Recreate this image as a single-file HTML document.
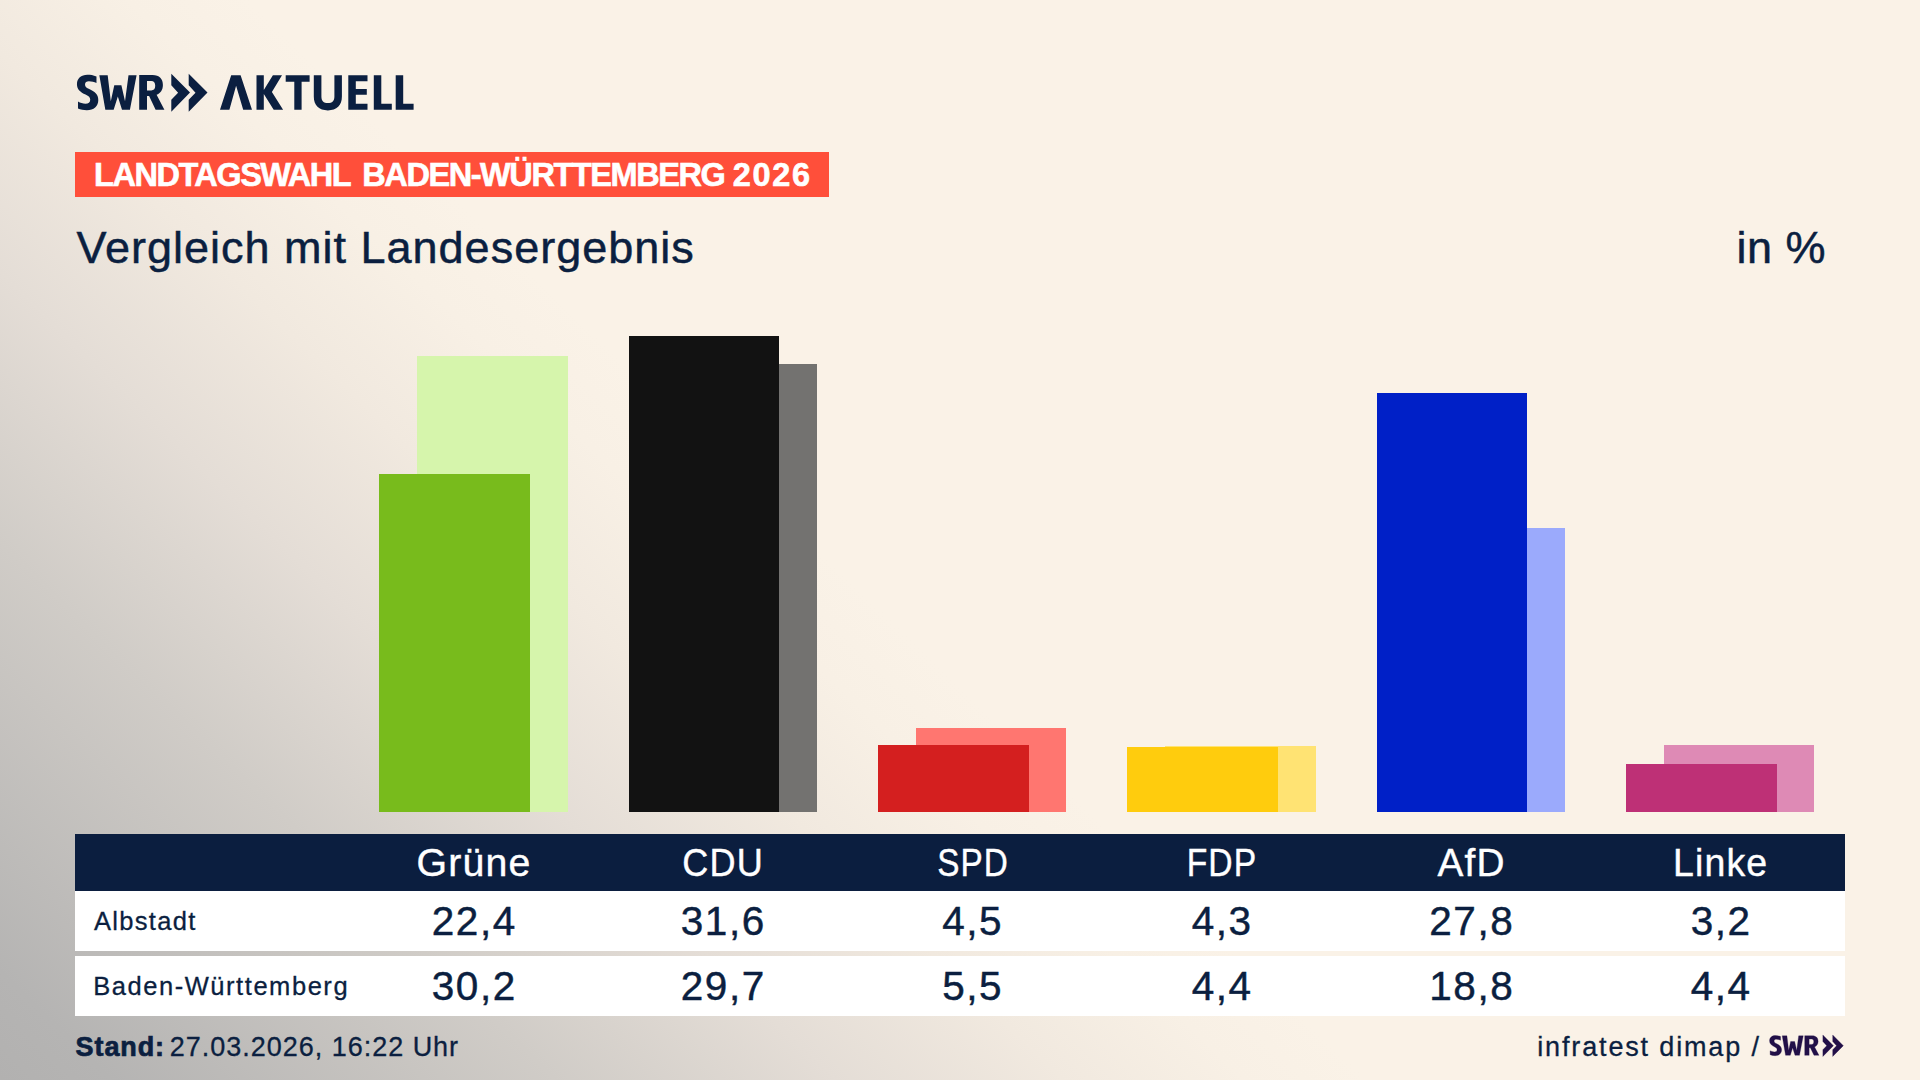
<!DOCTYPE html>
<html lang="de">
<head>
<meta charset="utf-8">
<title>SWR Aktuell – Landtagswahl Baden-Württemberg 2026 – Vergleich mit Landesergebnis</title>
<style>
  html, body { margin: 0; padding: 0; }
  body {
    width: 1920px; height: 1080px; overflow: hidden; position: relative;
    font-family: "Liberation Sans", sans-serif;
    color: #0b1f40;
    background-color: #faf2e7;
    background-image: linear-gradient(44deg, #b2b1b0 0%, #b5b4b3 3.7%, #d0ccc7 18.3%, #e4ddd6 27.5%, #f1e9df 35%, #f8f0e5 41%, #faf2e7 45%);
  }
  .abs { position: absolute; white-space: pre; line-height: 1; }

  /* header */
  #logo { position: absolute; left: 60px; top: 60px; width: 380px; height: 70px; }
  #badge {
    position: absolute; left: 75px; top: 152px; width: 754px; height: 45px;
    background: #ff4f3a;
  }
  #badge span {
    position: absolute; top: 6.6px; line-height: 32px;
    font-weight: bold; font-size: 32.5px; color: #fff; white-space: pre;
    -webkit-text-stroke: 0.6px #fff;
  }
  #bw1 { left: 19px;    letter-spacing: -1.47px; }
  #bw2 { left: 287.3px; letter-spacing: -1.43px; }
  #bw3 { left: 657.8px;   letter-spacing: 1.65px; }
  #title { left: 76.4px; top: 225.4px; font-size: 45px; letter-spacing: 1.0px; -webkit-text-stroke: 0.5px #0b1f40; }
  #unit  { right: 94px; top: 225.4px; font-size: 45px; letter-spacing: 0.5px; -webkit-text-stroke: 0.5px #0b1f40; }

  /* bars */
  .bar { position: absolute; }

  /* table */
  #thead { position: absolute; left: 75px; top: 834px; width: 1770px; height: 57px; background: #0b1e3f; }
  .row   { position: absolute; left: 75px; width: 1770px; height: 60px; background: #fff; }
  #row1 { top: 891px; }
  #row2 { top: 956px; }
  .col { position: absolute; width: 250px; text-align: center; white-space: pre; }
  .col span { display: inline-block; transform-origin: 50% 50%; }
  #thead .col { top: 0.5px; line-height: 57px; font-size: 38px; color: #fff; letter-spacing: 1.2px; -webkit-text-stroke: 0.4px #fff; }
  #thead .col span { padding-left: 1.2px; }
  .row .col { top: 0; line-height: 60px; font-size: 40.5px; letter-spacing: 1.5px; -webkit-text-stroke: 0.45px #0b1f40; }
  .row .col span { padding-left: 1.5px; }
  .row .lbl { position: absolute; left: 19px; top: 0; line-height: 60px; font-size: 25.5px; letter-spacing: 1.3px; white-space: pre; -webkit-text-stroke: 0.3px #0b1f40; }
  .c1 { left: 273.5px; } .c2 { left: 522.5px; } .c3 { left: 772px; }
  .c4 { left: 1021.5px; } .c5 { left: 1271px; } .c6 { left: 1520.5px; }

  /* footer */
  #stand { left: 75.6px; top: 1034px; font-size: 27px; font-weight: bold; letter-spacing: 0.9px; -webkit-text-stroke: 0.7px #0b1f40; }
  #date  { left: 169.8px; top: 1034px; font-size: 27px; letter-spacing: 0.98px; -webkit-text-stroke: 0.3px #0b1f40; }
  #src { right: 159.2px; top: 1034px; font-size: 27px; letter-spacing: 1.85px; -webkit-text-stroke: 0.3px #0b1f40; }
  #logo2 { position: absolute; left: 1769.3px; top: 1033.5px; width: 75.2px; height: 23.2px; }
  #logo2 use { stroke: currentColor; stroke-width: 0.5; }
</style>
</head>
<body>

<svg width="0" height="0" style="position:absolute">
  <defs>
    <symbol id="swr" viewBox="76 72 133 41" preserveAspectRatio="none">
      <!-- S -->
      <path fill="currentColor" d="M 96.48 76.59 C 93.35 75.03 90.23 74.77 87.36 74.77 C 81.11 74.77 76.95 78.42 76.95 84.15 C 76.95 89.35 80.33 91.96 85.54 94.56 C 88.93 96.12 90.23 97.43 90.23 99.77 C 90.23 102.38 88.41 103.68 85.54 103.68 C 82.68 103.68 80.33 102.90 77.99 101.59 L 77.99 108.62 C 80.59 109.67 83.46 110.29 86.84 110.29 C 93.88 110.29 98.30 106.28 98.30 100.03 C 98.30 94.56 94.92 91.70 89.71 89.35 C 86.32 87.79 85.02 86.49 85.02 84.41 C 85.02 82.32 86.58 81.28 88.93 81.28 C 91.79 81.28 94.14 82.06 96.48 83.10 Z"/>
      <!-- W -->
      <path fill="currentColor" d="M 99.34 75.29 L 107.68 75.29 L 110.80 101.33 L 114.29 85.19 L 121.38 85.19 L 125.02 101.33 L 128.51 75.29 L 136.58 75.29 L 129.92 109.67 L 122.00 109.67 L 117.83 96.39 L 113.67 109.67 L 105.33 109.67 Z"/>
      <!-- R -->
      <path fill="currentColor" fill-rule="evenodd" d="M139.2 75 L152.5 75 C159.5 75 162.9 78.9 162.9 84.9 C162.9 89.9 160.5 93 156.6 94.8 L164.4 109.7 L155.6 109.7 L149.1 96.1 L147 96.1 L147 109.7 L139.2 109.7 Z M147 81 L147 90.4 L151.2 90.4 C154 90.4 155.2 88.6 155.2 85.7 C155.2 82.8 154 81 151.2 81 Z"/>
      <!-- chevrons -->
      <path fill="currentColor" d="M171.3 73.7 L190 92.6 L171.3 111.7 L171.3 99.8 L178.1 92.7 L171.3 85.3 Z"/>
      <path fill="currentColor" d="M188.7 73.7 L207.5 92.6 L188.7 111.7 L188.7 99.8 L195.5 92.7 L188.7 85.3 Z"/>
    </symbol>
  </defs>
</svg>

<!-- top logo -->
<svg id="logo" viewBox="60 60 380 70" style="color:#0b1f40">
  <use href="#swr" x="76" y="72" width="133" height="41"/>
  <g fill="currentColor">
    <!-- Λ -->
    <path d="M220 109.7 L231.2 75.3 L240.6 75.3 L252 109.7 L243.2 109.7 L236.1 85.7 L229.4 109.7 Z"/>
    <!-- K -->
    <path d="M256.5 75.3 L263.8 75.3 L263.8 89.9 L272.9 75.3 L282 75.3 L271.9 92 L283.1 109.7 L273.7 109.7 L263.8 94 L263.8 109.7 L256.5 109.7 Z"/>
    <!-- T -->
    <path d="M285.7 75.3 L309.6 75.3 L309.6 81.8 L301.6 81.8 L301.6 109.7 L294.3 109.7 L294.3 81.8 L285.7 81.8 Z"/>
    <!-- U -->
    <path d="M313.8 75.3 L321.4 75.3 L321.4 96.4 C321.4 100.8 323.6 103 327.9 103 C332.2 103 334.4 100.8 334.4 96.4 L334.4 75.3 L341.9 75.3 L341.9 96.6 C341.9 105.6 336.7 110.4 327.9 110.4 C319 110.4 313.8 105.6 313.8 96.6 Z"/>
    <!-- E -->
    <path d="M348.3 75.3 L367.5 75.3 L367.5 81.3 L355.8 81.3 L355.8 89.1 L366.8 89.1 L366.8 94.8 L355.8 94.8 L355.8 103.7 L367.5 103.7 L367.5 109.7 L348.3 109.7 Z"/>
    <!-- L L -->
    <path d="M373.8 75.3 L381.3 75.3 L381.3 103.7 L391.8 103.7 L391.8 109.7 L373.8 109.7 Z"/>
    <path d="M395.7 75.3 L403.2 75.3 L403.2 103.7 L413.6 103.7 L413.6 109.7 L395.7 109.7 Z"/>
  </g>
</svg>

<div id="badge"><span id="bw1">LANDTAGSWAHL</span><span id="bw2">BADEN-WÜRTTEMBERG</span><span id="bw3">2026</span></div>
<div id="title" class="abs">Vergleich mit Landesergebnis</div>
<div id="unit" class="abs">in %</div>

<!-- bars: background (Land) first, then foreground (Albstadt) -->
<div class="bar" style="left:417px;top:356px;width:151px;height:456px;background:#d6f5ac"></div>
<div class="bar" style="left:379px;top:474px;width:151px;height:338px;background:#78bb1c"></div>

<div class="bar" style="left:667px;top:364px;width:150px;height:448px;background:#737270"></div>
<div class="bar" style="left:629px;top:336px;width:150px;height:476px;background:#121212"></div>

<div class="bar" style="left:916px;top:728px;width:150px;height:84px;background:#ff7670"></div>
<div class="bar" style="left:878px;top:745px;width:151px;height:67px;background:#d41f1f"></div>

<div class="bar" style="left:1165px;top:746px;width:151px;height:66px;background:#ffe373"></div>
<div class="bar" style="left:1127px;top:747px;width:151px;height:65px;background:#ffcc0d"></div>

<div class="bar" style="left:1415px;top:528px;width:150px;height:284px;background:#9baafc"></div>
<div class="bar" style="left:1377px;top:393px;width:150px;height:419px;background:#0020c7"></div>

<div class="bar" style="left:1664px;top:745px;width:150px;height:67px;background:#de8ab5"></div>
<div class="bar" style="left:1626px;top:764px;width:151px;height:48px;background:#be3076"></div>

<!-- table -->
<div id="thead">
  <div class="col c1"><span style="transform:scaleX(1.032)">Grüne</span></div>
  <div class="col c2"><span style="transform:scaleX(.949)">CDU</span></div>
  <div class="col c3"><span style="transform:scaleX(.876)">SPD</span></div>
  <div class="col c4"><span style="transform:scaleX(.886)">FDP</span></div>
  <div class="col c5"><span style="transform:scaleX(1.02)">AfD</span></div>
  <div class="col c6"><span style="transform:scaleX(.985)">Linke</span></div>
</div>
<div id="row1" class="row">
  <div class="lbl">Albstadt</div>
  <div class="col c1"><span>22,4</span></div><div class="col c2"><span>31,6</span></div><div class="col c3"><span>4,5</span></div>
  <div class="col c4"><span>4,3</span></div><div class="col c5"><span>27,8</span></div><div class="col c6"><span>3,2</span></div>
</div>
<div id="row2" class="row">
  <div class="lbl" style="left:18.2px;letter-spacing:1.55px">Baden-Württemberg</div>
  <div class="col c1"><span>30,2</span></div><div class="col c2"><span>29,7</span></div><div class="col c3"><span>5,5</span></div>
  <div class="col c4"><span>4,4</span></div><div class="col c5"><span>18,8</span></div><div class="col c6"><span>4,4</span></div>
</div>

<!-- footer -->
<div id="stand" class="abs">Stand:</div>
<div id="date" class="abs">27.03.2026, 16:22 Uhr</div>
<div id="src" class="abs">infratest dimap /</div>
<svg id="logo2" viewBox="0 0 133 41" preserveAspectRatio="none" style="color:#221048">
  <use href="#swr" x="0" y="0" width="133" height="41"/>
</svg>

</body>
</html>
